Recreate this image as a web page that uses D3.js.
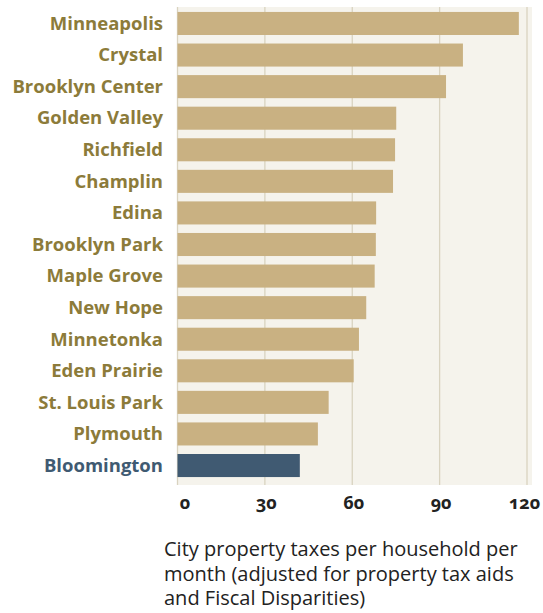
<!DOCTYPE html>
<html>
<head>
<meta charset="utf-8">
<script src="https://cdn.jsdelivr.net/npm/d3@7"></script>
<style>
  html, body { margin: 0; padding: 0; background: #ffffff; }
  svg { display: block; }
</style>
</head>
<body>
<svg id="chart" width="543" height="613"></svg>
<script>
// Cities, top to bottom
const cities = [
  "Minneapolis", "Crystal", "Brooklyn Center", "Golden Valley", "Richfield",
  "Champlin", "Edina", "Brooklyn Park", "Maple Grove", "New Hope",
  "Minnetonka", "Eden Prairie", "St. Louis Park", "Plymouth", "Bloomington"
];
// Monthly city property tax per household, dollars
const taxes = [
  117.2, 98.0, 92.2, 75.1, 74.7,
  74.0, 68.2, 68.1, 67.7, 64.8,
  62.3, 60.5, 51.9, 48.2, 42.0
];
const highlight = "Bloomington";
const tickValues = [0, 30, 60, 90, 120];
const captionLines = [
  "City property taxes per household per",
  "month (adjusted for property tax aids",
  "and Fiscal Disparities)"
];

const data = cities.map((c, i) => ({ city: c, value: taxes[i] }));

const svg = d3.select("#chart");
const font = "'Open Sans', 'Noto Sans', sans-serif";

const plot = { left: 177, right: 532, top: 7, bottom: 485 };

const x = d3.scaleLinear().domain([0, 120]).range([177.5, 527]);
const y = d3.scaleBand()
  .domain(cities)
  .range([5, 484])
  .paddingInner(0.27)
  .paddingOuter(0.22);

// panel background
svg.append("rect")
  .attr("x", plot.left).attr("y", plot.top)
  .attr("width", plot.right - plot.left)
  .attr("height", plot.bottom - plot.top)
  .attr("fill", "#f5f3ec");

// vertical grid lines
svg.append("g")
  .selectAll("line")
  .data(tickValues)
  .join("line")
  .attr("x1", d => x(d)).attr("x2", d => x(d))
  .attr("y1", plot.top).attr("y2", plot.bottom)
  .attr("stroke", "#d9d3c0")
  .attr("stroke-width", 1.3);

// bars
svg.append("g")
  .selectAll("rect")
  .data(data)
  .join("rect")
  .attr("x", x(0))
  .attr("y", d => y(d.city))
  .attr("width", d => x(d.value) - x(0))
  .attr("height", y.bandwidth())
  .attr("fill", d => d.city === highlight ? "#405a72" : "#c9b182");

// city labels
svg.append("g")
  .selectAll("text")
  .data(data)
  .join("text")
  .attr("x", 163)
  .attr("y", d => y(d.city) + y.bandwidth() / 2)
  .attr("dy", "0.34em")
  .attr("text-anchor", "end")
  .attr("font-family", font)
  .attr("font-weight", 700)
  .attr("font-size", 18.5)
  .attr("fill", d => d.city === highlight ? "#3f5a72" : "#8c7b3a")
  .text(d => d.city);

// x axis tick labels
const xAxis = d3.axisBottom(x)
  .tickValues(tickValues)
  .tickSize(0)
  .tickPadding(0)
  .tickFormat(d3.format("d"));

const axisG = svg.append("g")
  .attr("transform", `translate(0, ${plot.bottom})`)
  .call(xAxis);
axisG.select(".domain").remove();
axisG.selectAll("text")
  .attr("y", 24)
  .attr("dy", 0)
  .attr("dx", d => d === 0 ? 7 : (d === 120 ? -3 : 1))
  .attr("font-family", font)
  .attr("font-weight", 700)
  .attr("font-size", 18)
  .attr("fill", "#222222")
  .style("font-variant-numeric", "oldstyle-nums");

// caption
svg.append("text")
  .attr("font-family", font)
  .attr("font-size", 20)
  .attr("fill", "#222222")
  .selectAll("tspan")
  .data(captionLines)
  .join("tspan")
  .attr("x", 164)
  .attr("y", (d, i) => 556 + i * 24.5)
  .text(d => d);
</script>
</body>
</html>
